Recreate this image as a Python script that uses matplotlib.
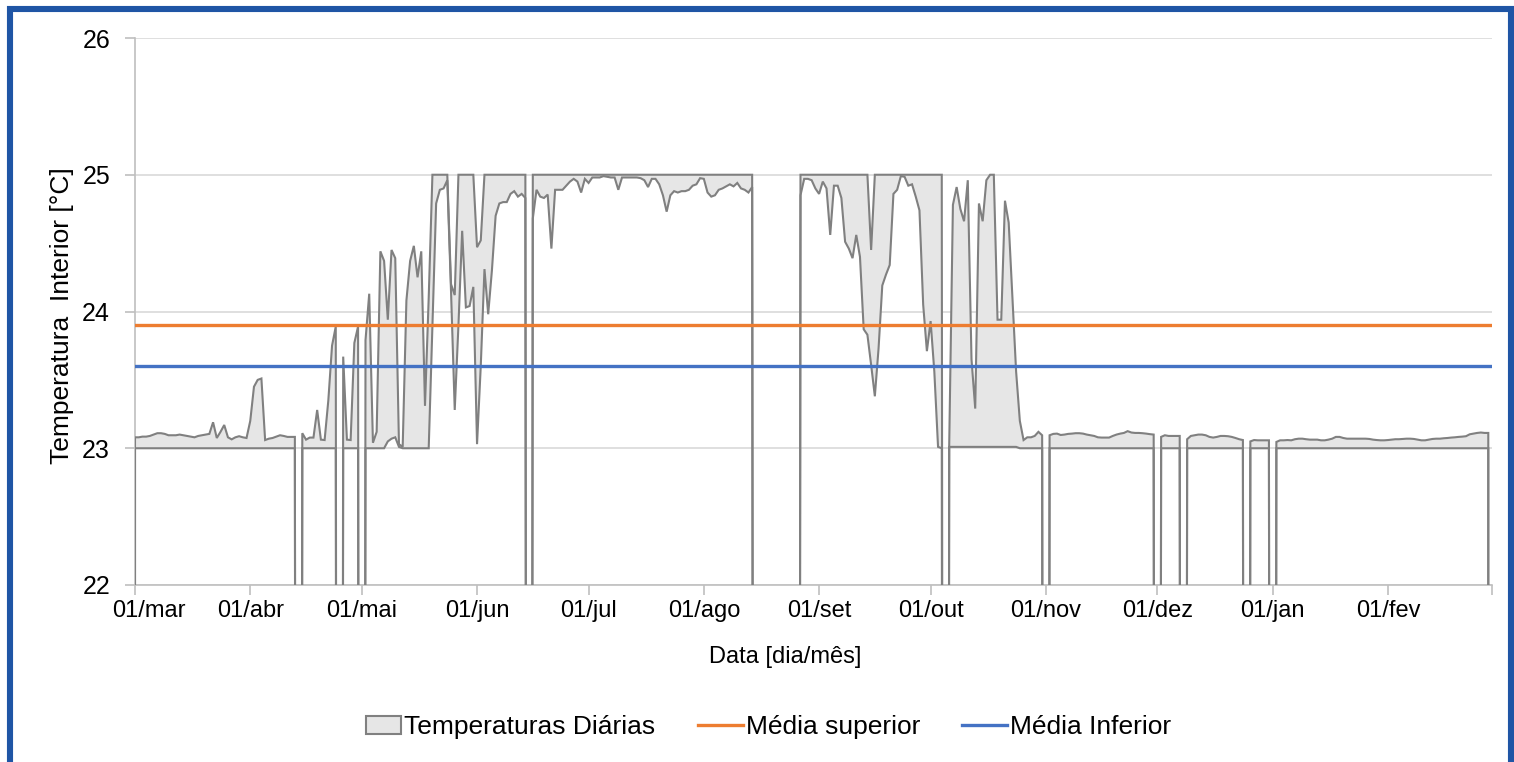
import numpy as np
import matplotlib
matplotlib.use("Agg")
import matplotlib.pyplot as plt
from matplotlib.patches import Rectangle, Patch
from matplotlib.lines import Line2D
from matplotlib.legend_handler import HandlerPatch
from matplotlib.transforms import ScaledTranslation

plt.rcParams['font.family'] = ['Liberation Sans', 'DejaVu Sans']

# ---- data: daily maximum / minimum indoor temperature (0 = missing day) ----
max_mar = [23.08, 23.08, 23.085, 23.085, 23.09, 23.1, 23.11, 23.11, 23.105, 23.095,
           23.095, 23.095, 23.1, 23.095, 23.09, 23.085, 23.08, 23.09, 23.095, 23.1,
           23.105, 23.19, 23.075, 23.12, 23.17, 23.08, 23.065, 23.08, 23.088, 23.08, 23.075]
min_mar = [23.0, 23.0, 23.0, 23.0, 23.0, 23.0, 23.0, 23.0, 23.0, 23.0,
           23.0, 23.0, 23.0, 23.0, 23.0, 23.0, 23.0, 23.0, 23.0, 23.0,
           23.0, 23.0, 23.0, 23.0, 23.0, 23.0, 23.0, 23.0, 23.0, 23.0, 23.0]

max_abr = [23.2, 23.45, 23.5, 23.51, 23.06, 23.07, 23.075, 23.085, 23.095, 23.09,
           23.083, 23.083, 23.083, 0, 23.11, 23.063, 23.078, 23.078, 23.28, 23.063,
           23.06, 23.35, 23.75, 23.89, 0, 23.67, 23.063, 23.06, 23.77, 23.89]
min_abr = [23.0, 23.0, 23.0, 23.0, 23.0, 23.0, 23.0, 23.0, 23.0, 23.0,
           23.0, 23.0, 23.0, 0, 23.0, 23.0, 23.0, 23.0, 23.0, 23.0,
           23.0, 23.0, 23.0, 23.0, 0, 23.0, 23.0, 23.0, 23.0, 23.0]

max_mai = [0, 23.79, 24.13, 23.04, 23.12, 24.44, 24.37, 23.94, 24.45, 24.39,
           23.03, 23.01, 24.08, 24.37, 24.48, 24.25, 24.44, 23.31, 24.1, 25.0,
           25.0, 25.0, 25.0, 25.0, 24.2, 24.12, 25.0, 25.0, 25.0, 25.0, 25.0]
min_mai = [0, 23.0, 23.0, 23.0, 23.0, 23.0, 23.0, 23.05, 23.07, 23.08,
           23.01, 23.0, 23.0, 23.0, 23.0, 23.0, 23.0, 23.0, 23.0, 23.9,
           24.79, 24.89, 24.9, 24.96, 24.15, 23.28, 23.9, 24.59, 24.03, 24.04, 24.18]

max_jun = [24.47, 24.52, 25.0, 25.0, 25.0, 25.0, 25.0, 25.0, 25.0, 25.0,
           25.0, 25.0, 25.0, 25.0, 0, 25.0, 25.0, 25.0, 25.0, 25.0,
           25.0, 25.0, 25.0, 25.0, 25.0, 25.0, 25.0, 25.0, 25.0, 25.0]
min_jun = [23.03, 23.6, 24.31, 23.98, 24.3, 24.7, 24.79, 24.8, 24.8, 24.86,
           24.88, 24.84, 24.86, 24.83, 0, 24.68, 24.89, 24.84, 24.83, 24.855,
           24.46, 24.89, 24.89, 24.89, 24.92, 24.95, 24.97, 24.95, 24.87, 24.97]

max_jul = [25.0, 25.0, 25.0, 25.0, 25.0, 25.0, 25.0, 25.0, 25.0, 25.0,
           25.0, 25.0, 25.0, 25.0, 25.0, 25.0, 25.0, 25.0, 25.0, 25.0,
           25.0, 25.0, 25.0, 25.0, 25.0, 25.0, 25.0, 25.0, 25.0, 25.0, 25.0]
min_jul = [24.94, 24.98, 24.98, 24.98, 24.99, 24.985, 24.98, 24.98, 24.89, 24.98,
           24.98, 24.98, 24.98, 24.98, 24.975, 24.96, 24.91, 24.97, 24.97, 24.93,
           24.85, 24.73, 24.85, 24.88, 24.87, 24.88, 24.88, 24.89, 24.92, 24.93, 24.975]

max_ago = [25.0, 25.0, 25.0, 25.0, 25.0, 25.0, 25.0, 25.0, 25.0, 25.0,
           25.0, 25.0, 25.0, 25.0, 0, 0, 0, 0, 0, 0,
           0, 0, 0, 0, 0, 0, 25.0, 25.0, 25.0, 25.0, 25.0]
min_ago = [24.97, 24.87, 24.84, 24.85, 24.89, 24.9, 24.915, 24.93, 24.915, 24.94,
           24.9, 24.89, 24.87, 24.91, 0, 0, 0, 0, 0, 0,
           0, 0, 0, 0, 0, 0, 24.85, 24.97, 24.97, 24.96, 24.9]

max_set = [25.0, 25.0, 25.0, 25.0, 25.0, 25.0, 25.0, 25.0, 25.0, 25.0,
           25.0, 25.0, 25.0, 25.0, 24.45, 25.0, 25.0, 25.0, 25.0, 25.0,
           25.0, 25.0, 25.0, 25.0, 25.0, 25.0, 25.0, 25.0, 25.0, 25.0]
min_set = [24.86, 24.95, 24.9, 24.56, 24.92, 24.92, 24.83, 24.51, 24.46, 24.39,
           24.56, 24.4, 23.87, 23.83, 23.61, 23.38, 23.73, 24.19, 24.27, 24.34,
           24.86, 24.89, 24.99, 24.985, 24.92, 24.93, 24.84, 24.74, 24.05, 23.71]

max_out = [25.0, 25.0, 25.0, 25.0, 0, 23.02, 24.78, 24.91, 24.75, 24.66,
           24.96, 23.65, 23.29, 24.79, 24.66, 24.96, 25.0, 25.0, 23.94, 23.94,
           24.81, 24.65, 24.11, 23.56, 23.2, 23.06, 23.08, 23.08, 23.09, 23.12, 23.095]
min_out = [23.93, 23.56, 23.01, 23.0, 0, 23.01, 23.01, 23.01, 23.01, 23.01,
           23.01, 23.01, 23.01, 23.01, 23.01, 23.01, 23.01, 23.01, 23.01, 23.01,
           23.01, 23.01, 23.01, 23.01, 23.0, 23.0, 23.0, 23.0, 23.0, 23.0, 23.0]

max_nov = [0, 23.095, 23.105, 23.107, 23.097, 23.1, 23.105, 23.107, 23.11, 23.11,
           23.107, 23.1, 23.095, 23.09, 23.08, 23.078, 23.078, 23.078, 23.09, 23.1,
           23.107, 23.112, 23.125, 23.115, 23.112, 23.112, 23.11, 23.107, 23.103, 23.1]
min_nov = [0, 23.0, 23.0, 23.0, 23.0, 23.0, 23.0, 23.0, 23.0, 23.0,
           23.0, 23.0, 23.0, 23.0, 23.0, 23.0, 23.0, 23.0, 23.0, 23.0,
           23.0, 23.0, 23.0, 23.0, 23.0, 23.0, 23.0, 23.0, 23.0, 23.0]

max_dez = [0, 23.083, 23.095, 23.09, 23.09, 23.09, 23.09, 0, 23.066, 23.09,
           23.095, 23.1, 23.1, 23.095, 23.083, 23.078, 23.083, 23.09, 23.09, 23.088,
           23.083, 23.075, 23.066, 23.06, 0, 23.05, 23.06, 23.058, 23.058, 23.058, 23.058]
min_dez = [0, 23.0, 23.0, 23.0, 23.0, 23.0, 23.0, 0, 23.0, 23.0,
           23.0, 23.0, 23.0, 23.0, 23.0, 23.0, 23.0, 23.0, 23.0, 23.0,
           23.0, 23.0, 23.0, 23.0, 0, 23.0, 23.0, 23.0, 23.0, 23.0, 23.0]

max_jan = [0, 23.046, 23.058, 23.058, 23.06, 23.058, 23.066, 23.07, 23.07, 23.066,
           23.063, 23.063, 23.063, 23.058, 23.058, 23.063, 23.07, 23.083, 23.083, 23.075,
           23.07, 23.07, 23.07, 23.07, 23.07, 23.07, 23.068, 23.063, 23.06, 23.058, 23.058]
min_jan = [0, 23.0, 23.0, 23.0, 23.0, 23.0, 23.0, 23.0, 23.0, 23.0,
           23.0, 23.0, 23.0, 23.0, 23.0, 23.0, 23.0, 23.0, 23.0, 23.0,
           23.0, 23.0, 23.0, 23.0, 23.0, 23.0, 23.0, 23.0, 23.0, 23.0, 23.0]

max_fev = [23.06, 23.063, 23.066, 23.066, 23.068, 23.07, 23.07, 23.068, 23.063, 23.058,
           23.058, 23.063, 23.068, 23.07, 23.07, 23.073, 23.075, 23.078, 23.08, 23.083,
           23.085, 23.088, 23.102, 23.107, 23.112, 23.115, 23.112, 23.112]
min_fev = [23.0, 23.0, 23.0, 23.0, 23.0, 23.0, 23.0, 23.0, 23.0, 23.0,
           23.0, 23.0, 23.0, 23.0, 23.0, 23.0, 23.0, 23.0, 23.0, 23.0,
           23.0, 23.0, 23.0, 23.0, 23.0, 23.0, 23.0, 23.0]

media_superior = 23.9
media_inferior = 23.6

month_labels = ['01/mar', '01/abr', '01/mai', '01/jun', '01/jul', '01/ago',
                '01/set', '01/out', '01/nov', '01/dez', '01/jan', '01/fev']
month_lengths = [31, 30, 31, 30, 31, 31, 30, 31, 30, 31, 31, 28]
y_ticks = [22, 23, 24, 25, 26]

tmax = np.array(max_mar + max_abr + max_mai + max_jun + max_jul + max_ago +
                max_set + max_out + max_nov + max_dez + max_jan + max_fev, dtype=float)
tmin = np.array(min_mar + min_abr + min_mai + min_jun + min_jul + min_ago +
                min_set + min_out + min_nov + min_dez + min_jan + min_fev, dtype=float)
n_days = sum(month_lengths)
assert len(tmax) == n_days and len(tmin) == n_days, (len(tmax), len(tmin))
days = np.arange(n_days)

# ---- figure ----
W, H, DPI = 1514, 762, 100
fig = plt.figure(figsize=(W / DPI, H / DPI), dpi=DPI)
ax = fig.add_axes([135 / W, 1 - 585 / H, (1492 - 135) / W, (585 - 38) / H])

grey = '#808080'
fill_grey = '#E6E6E6'
orange = '#ED7D31'
blue = '#4472C4'

ax.fill_between(days, tmin, tmax, color=fill_grey, lw=0, zorder=2)
# outline of the area (including the vertical end edges down to the base)
xe = np.concatenate([[days[0]], days, [days[-1]]])
ax.plot(xe, np.concatenate([[0], tmax, [0]]), color=grey, lw=1.5, zorder=3,
        solid_joinstyle='miter')
ax.plot(xe, np.concatenate([[0], tmin, [0]]), color=grey, lw=1.5, zorder=3,
        solid_joinstyle='miter')

ax.axhline(media_superior, color=orange, lw=2.4, zorder=4)
ax.axhline(media_inferior, color=blue, lw=2.4, zorder=4)

ax.set_ylim(22, 26)
ax.set_xlim(0, n_days)
ax.set_yticks(y_ticks)
ax.set_yticklabels([str(v) for v in y_ticks])
month_starts = np.concatenate([[0], np.cumsum(month_lengths)])
ax.set_xticks(month_starts)
ax.set_xticklabels(month_labels + [''])

ax.grid(axis='y', color='#D9D9D9', lw=1.2, zorder=0)
for s in ['top', 'right']:
    ax.spines[s].set_visible(False)
for s in ['left', 'bottom']:
    ax.spines[s].set_color('#BFBFBF')
    ax.spines[s].set_linewidth(1.2)
ax.tick_params(axis='both', colors='#BFBFBF', labelcolor='black',
               length=7, width=1.2)
ax.tick_params(axis='y', pad=11, labelsize=18)
ax.tick_params(axis='x', pad=4, labelsize=17)

# first date label sits slightly right of its tick (as in the original)
fig.canvas.draw()
lbl0 = ax.get_xticklabels()[0]
lbl0.set_transform(lbl0.get_transform() + ScaledTranslation(14 / DPI, 0, fig.dpi_scale_trans))

ax.set_ylabel('Temperatura  Interior [°C]', fontsize=19)
ax.yaxis.set_label_coords(-(135 - 74) / (1492 - 135), (585 - 316) / (585 - 38))
ax.set_xlabel('Data [dia/mês]', fontsize=17)
ax.xaxis.set_label_coords((785 - 135) / (1492 - 135), -(646 - 585) / (585 - 38))


def small_box(legend, orig_handle, xdescent, ydescent, width, height, fontsize):
    w = width * 0.78
    h = height * 0.95
    return Rectangle((-xdescent + width - w, -ydescent + (height - h) / 2), w, h)


handles = [Patch(facecolor=fill_grey, edgecolor=grey, lw=1.5),
           Line2D([], [], color=orange, lw=2.4),
           Line2D([], [], color=blue, lw=2.4)]
labels = ['Temperaturas Diárias', 'Média superior', 'Média Inferior']
fig.legend(handles, labels, loc='center', bbox_to_anchor=(764 / W, 1 - 727 / H),
           ncol=3, frameon=False, fontsize=19, handlelength=1.7, handletextpad=0.12,
           columnspacing=1.6, handleheight=0.75,
           handler_map={Patch: HandlerPatch(patch_func=small_box)})

# blue outer frame
fig.patches.append(Rectangle((10 / W, -0.05), (1511 - 10) / W, 1.05 - 9 / H,
                             transform=fig.transFigure, fill=False,
                             edgecolor='#1F55A5', lw=4.4, clip_on=False))

fig.savefig('out.png', dpi=DPI)
